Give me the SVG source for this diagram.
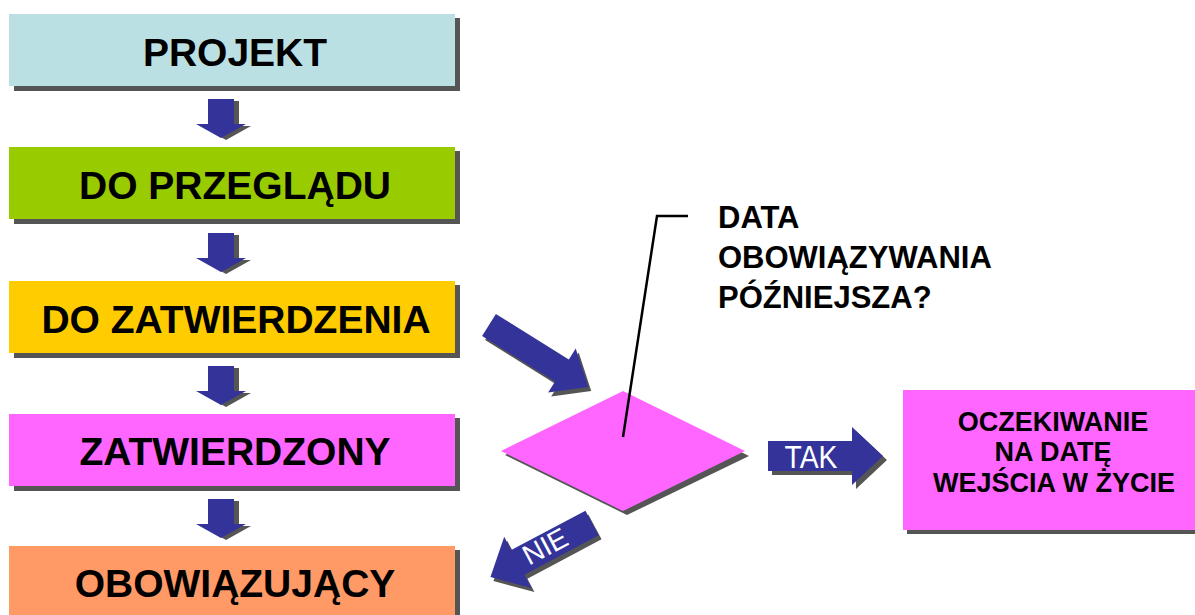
<svg xmlns="http://www.w3.org/2000/svg" width="1195" height="615" viewBox="0 0 1195 615">
<defs>
<style>
.shadow{fill:#555555}
.arrow{fill:#333399}
.lbl{font-family:"Liberation Sans",Arial,sans-serif;font-weight:bold;fill:#000;text-anchor:middle;font-size:39px}
.q{font-family:"Liberation Sans",Arial,sans-serif;font-weight:bold;fill:#000;font-size:31px}
.rb{font-family:"Liberation Sans",Arial,sans-serif;font-weight:bold;fill:#000;text-anchor:middle;font-size:27px}
.wt{font-family:"Liberation Sans",Arial,sans-serif;fill:#fff;text-anchor:middle}
</style>
<path id="down" d="M0,0 H26 V25 H38 L13,39 L-12,25 H0 Z"/>
</defs>
<rect width="1195" height="615" fill="#ffffff"/>

<g id="node-projekt">
<rect class="shadow" x="14" y="18" width="446" height="73"/>
<rect x="9" y="14" width="446" height="72" fill="#BBE0E3"/>
<text class="lbl" x="235" y="66">PROJEKT</text>
</g>
<g id="node-do-przegladu">
<rect class="shadow" x="14" y="151" width="446" height="73"/>
<rect x="9" y="147" width="446" height="72" fill="#99CC00"/>
<text class="lbl" x="235" y="199">DO PRZEGLĄDU</text>
</g>
<g id="node-do-zatwierdzenia">
<rect class="shadow" x="14" y="285" width="446" height="73"/>
<rect x="9" y="281" width="446" height="72" fill="#FFCC00"/>
<text class="lbl" x="236" y="333">DO ZATWIERDZENIA</text>
</g>
<g id="node-zatwierdzony">
<rect class="shadow" x="14" y="418" width="446" height="73"/>
<rect x="9" y="414" width="446" height="72" fill="#FF66FF"/>
<text class="lbl" x="235" y="465">ZATWIERDZONY</text>
</g>
<g id="node-obowiazujacy">
<rect class="shadow" x="14" y="550" width="446" height="73"/>
<rect x="9" y="546" width="446" height="72" fill="#FF9966"/>
<text class="lbl" x="235" y="597">OBOWIĄZUJĄCY</text>
</g>

<g id="node-decision">
<polygon class="shadow" points="505,455 627,395 749,456 627,515"/>
<polygon points="501,451 623,391 745,451 623,511" fill="#FF66FF"/>
</g>

<g id="node-question">
<text class="q" x="718" y="228">DATA</text>
<text class="q" x="718" y="268">OBOWIĄZYWANIA</text>
<text class="q" x="718" y="308">PÓŹNIEJSZA?</text>
</g>

<g id="node-oczekiwanie">
<rect class="shadow" x="907" y="394" width="300" height="140"/>
<rect x="903" y="390" width="300" height="140" fill="#FF66FF"/>
<text class="rb" x="1053" y="431">OCZEKIWANIE</text>
<text class="rb" x="1053" y="461">NA DATĘ</text>
<text class="rb" x="1054" y="492">WEJŚCIA W ŻYCIE</text>
</g>

<g id="connectors">
<g class="shadow">
<use href="#down" x="213" y="101"/>
<use href="#down" x="213" y="235"/>
<use href="#down" x="213" y="368"/>
<use href="#down" x="213" y="501"/>
</g>
<g class="arrow">
<use href="#down" x="208" y="99"/>
<use href="#down" x="208" y="233"/>
<use href="#down" x="208" y="366"/>
<use href="#down" x="208" y="499"/>
</g>

<g transform="translate(492,329) rotate(32)">
<path class="shadow" d="M0,-13 L86,-13 L86,-26 L117,0 L86,26 L86,13 L0,13 Z"/>
</g>
<g transform="translate(489,325) rotate(32)">
<path class="arrow" d="M0,-13 L86,-13 L86,-26 L117,0 L86,26 L86,13 L0,13 Z"/>
</g>

<path d="M688,216 H657 L623,437" fill="none" stroke="#000" stroke-width="2.5"/>

<path class="shadow" d="M772,445 H856 V431 L887,460 L856,489 V475 H772 Z"/>
<path class="arrow" d="M768,441 H852 V427 L883,456 L852,485 V471 H768 Z"/>
<text class="wt" x="811" y="468" font-size="31" textLength="53" lengthAdjust="spacingAndGlyphs">TAK</text>

<g transform="translate(595,527) rotate(152)">
<path class="shadow" d="M0,-14 L84,-14 L84,-29 L115,0 L84,29 L84,14 L0,14 Z"/>
</g>
<g transform="translate(592,523) rotate(152)">
<path class="arrow" d="M0,-14 L84,-14 L84,-29 L115,0 L84,29 L84,14 L0,14 Z"/>
</g>
<g transform="translate(545,546) rotate(-28)">
<text class="wt" x="0" y="10" font-size="28">NIE</text>
</g>
</g>
</svg>
